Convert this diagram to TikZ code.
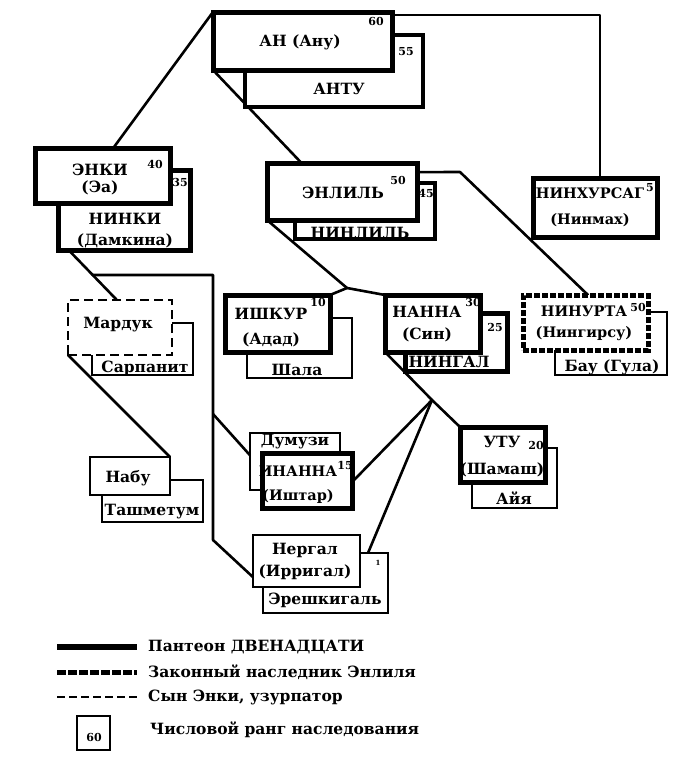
\documentclass[tikz,border=0pt]{standalone}
\usepackage{fontspec}
\setmainfont{DejaVu Serif}
\usetikzlibrary{calc,backgrounds}
\tikzset{
  box/.style={draw, fill=white, inner sep=0pt, outer sep=0pt, line width=2.5pt},
  thickbox/.style={box, line width=5pt},
  midbox/.style={box, line width=3.5pt},
  heirbox/.style={box, line width=5pt, dash pattern=on 6pt off 2pt},
  usurpbox/.style={box, line width=2.5pt, dash pattern=on 9pt off 5pt},
  txt/.style={inner sep=0pt, font=\bfseries\fontsize{15.5}{17}\selectfont, align=center},
  stxt/.style={txt, font=\bfseries\fontsize{14.5}{17}\selectfont},
  num/.style={inner sep=0pt, font=\bfseries\fontsize{11}{12}\selectfont},
  link/.style={line width=2.6pt, line cap=round, line join=round},
}
\begin{document}
\begin{tikzpicture}[x=1pt,y=-1pt]
\useasboundingbox (0,0) rectangle (692,761);

% ---- boxes (back ones first) ----
\node[midbox, minimum width=178pt, minimum height=72pt] (antu) at (334,71) {};
\node[thickbox, minimum width=179pt, minimum height=58pt] (an) at (302.5,41) {};

\node[thickbox, minimum width=132pt, minimum height=80pt] (ninki) at (124,210) {};
\node[thickbox, minimum width=135pt, minimum height=55pt] (enki) at (102.5,175.5) {};

\node[midbox, minimum width=140pt, minimum height=56pt] (ninlil) at (365,211) {};
\node[thickbox, minimum width=150pt, minimum height=57pt] (enlil) at (342,191.5) {};

\node[thickbox, minimum width=124pt, minimum height=59pt] (ninh) at (595,207.5) {};

\node[box, minimum width=112pt, minimum height=63pt] (bau) at (611,343.5) {};
\node[heirbox, minimum width=125pt, minimum height=55pt] (ninurta) at (585.5,322.5) {};

\node[box, minimum width=101pt, minimum height=52pt] (sarpanit) at (142.5,349) {};
\node[usurpbox, minimum width=104pt, minimum height=55pt] (marduk) at (120,327.5) {};

\node[box, minimum width=105pt, minimum height=60pt] (shala) at (299.5,348) {};
\node[thickbox, minimum width=105pt, minimum height=57pt] (ishkur) at (277.5,323.5) {};

\node[thickbox, minimum width=102pt, minimum height=58pt] (ningal) at (456,342) {};
\node[thickbox, minimum width=95pt, minimum height=57pt] (nanna) at (432.5,323.5) {};

\node[box, minimum width=90pt, minimum height=57pt] (dumuzi) at (295,461.5) {};
\node[thickbox, minimum width=90pt, minimum height=55pt] (inanna) at (307,480.5) {};

\node[box, minimum width=85pt, minimum height=60pt] (aya) at (514.5,478) {};
\node[thickbox, minimum width=85pt, minimum height=55pt] (utu) at (502.5,454.5) {};

\node[box, minimum width=101pt, minimum height=42pt] (tashmetum) at (152.5,501) {};
\node[box, minimum width=80pt, minimum height=38pt] (nabu) at (130,476) {};

\node[box, minimum width=125pt, minimum height=60pt] (eresh) at (325.5,583) {};
\node[box, minimum width=107pt, minimum height=52pt] (nergal) at (306.5,561) {};

% ---- junction / bend coordinates ----
\coordinate (k1) at (460,172);
\coordinate (k2) at (92.5,275);
\coordinate (k3) at (213,275);
\coordinate (k4) at (213,540);
\coordinate (k5) at (213,414);
\coordinate (j1) at (347,288);
\coordinate (j2) at (432,400);

% ---- connectors ----
\begin{scope}[on background layer]
\draw[link] (an.north west) -- ($(enki.north west)!0.58!(enki.north east)$);
\draw[link] (an.south west) -- ($(enlil.north west)!0.23!(enlil.north east)$);
\draw[link] ($(an.north east)!0.05!(an.south east)$) -| ($(ninh.north west)!0.54!(ninh.north east)$);
\draw[link] ($(enlil.north east)!0.16!(enlil.south east)$) -- (k1) -- ($(ninurta.north west)!0.52!(ninurta.north east)$);
\draw[link] ($(ninki.south west)!0.08!(ninki.south east)$) -- ($(marduk.north west)!0.47!(marduk.north east)$);
\draw[link] (k2) -- (k3) -- (k4) -- ($(nergal.north west)!0.81!(nergal.south west)$);
\draw[link] (k5) -- ($(dumuzi.north west)!0.39!(dumuzi.south west)$);
\draw[link] (marduk.south west) -- (nabu.north east);
\draw[link] (enlil.south west) -- (j1);
\draw[link] (j1) -- (ishkur.north east);
\draw[link] (j1) -- (nanna.north west);
\draw[link] (nanna.south west) -- (j2);
\draw[link] (j2) -- ($(inanna.north east)!0.53!(inanna.south east)$);
\draw[link] (j2) -- ($(eresh.north west)!0.84!(eresh.north east)$);
\draw[link] (j2) -- (utu.north west);
\end{scope}

% ---- texts ----
\node[txt] (tan) at (300,42) {АН (Ану)};
\node[num] (r60) at (376,21) {60};
\node[num] (r55) at (406,52) {55};
\node[txt] (tantu) at (339,89) {АНТУ};

\node[txt] (tenki) at (100,179) {ЭНКИ\\(Эа)};
\node[num] (r40) at (155,164) {40};
\node[num] (r35) at (180,182) {35};
\node[txt] (tninki) at (125,231) {НИНКИ\\[4pt](Дамкина)};

\node[txt] (tenlil) at (343,193) {ЭНЛИЛЬ};
\node[num] (r50) at (398,180) {50};
\node[num] (r45) at (426,193) {45};
\node[txt] (tninlil) at (360,233) {НИНЛИЛЬ};

\node[stxt] (tninh) at (590,207) {НИНХУРСАГ\\[9pt](Нинмах)};
\node[num] (r5) at (650,188) {5};

\node[stxt] (tninurta) at (584,323) {НИНУРТА\\[4pt](Нингирсу)};
\node[num] (r50b) at (638,307) {50};
\node[txt] (tbau) at (612,367) {Бау (Гула)};

\node[txt] (tmarduk) at (118,325) {Мардук};
\node[txt] (tsarp) at (145,368) {Сарпанит};

\node[txt] (tishkur) at (271,328) {ИШКУР\\[8pt](Адад)};
\node[num] (r10) at (318,302) {10};
\node[txt] (tshala) at (297,370) {Шала};

\node[txt] (tnanna) at (427,324) {НАННА\\[5pt](Син)};
\node[num] (r30) at (473,302) {30};
\node[num] (r25) at (495,327) {25};
\node[txt] (tningal) at (449,362) {НИНГАЛ};

\node[txt] (tdumuzi) at (295,442) {Думузи};
\node[stxt] (tinanna) at (298,485) {ИНАННА\\[7pt](Иштар)};
\node[num] (r15) at (345,465) {15};

\node[txt] (tutu) at (502,457) {УТУ\\[10pt](Шамаш)};
\node[num] (r20) at (536,445) {20};
\node[txt] (taya) at (514,498) {Айя};

\node[txt] (tnabu) at (128,478) {Набу};
\node[txt] (ttash) at (152,512) {Ташметум};

\node[txt] (tnergal) at (305,561) {Нергал\\[5pt](Ирригал)};
\node[num, font=\bfseries\fontsize{7}{8}\selectfont] (r1) at (378,563) {1};
\node[txt] (teresh) at (325,600) {Эрешкигаль};

% ---- legend ----
\draw[line width=6pt] (57,647) -- (137,647);
\draw[line width=5pt, dash pattern=on 9pt off 2pt] (57,672) -- (137,672);
\draw[line width=2.5pt, dash pattern=on 8pt off 4pt] (57,697) -- (137,697);
\node[txt, anchor=west] (l1) at (148,647) {Пантеон ДВЕНАДЦАТИ};
\node[txt, anchor=west] (l2) at (148,672) {Законный наследник Энлиля};
\node[txt, anchor=west] (l3) at (148,697) {Сын Энки, узурпатор};
\node[box, line width=2pt, minimum width=33pt, minimum height=34pt] (lbox) at (93.5,733) {};
\node[num] (l60) at (94,737) {60};
\node[txt, anchor=west] (l4) at (150,730) {Числовой ранг наследования};
\end{tikzpicture}
\end{document}
